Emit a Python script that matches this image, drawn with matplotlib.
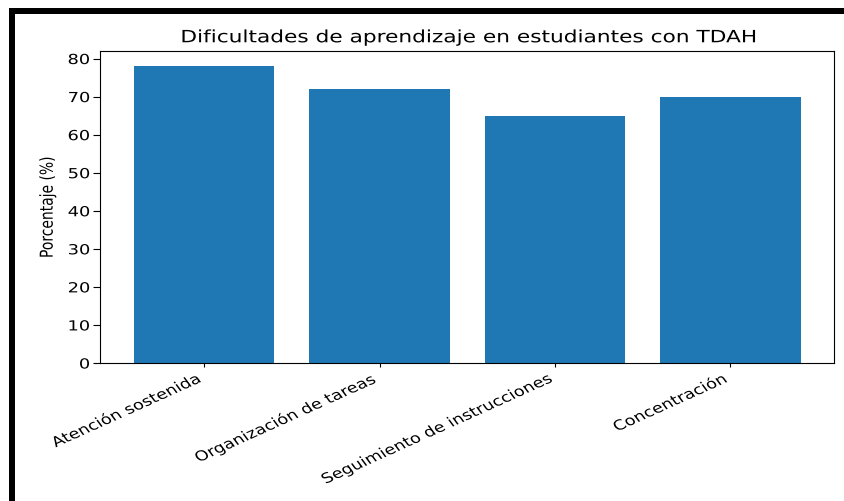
import matplotlib
matplotlib.use('Agg')
import matplotlib.pyplot as plt
from matplotlib import patheffects
from matplotlib.transforms import Affine2D
from matplotlib.patches import Rectangle

categorias = ['Atención sostenida', 'Organización de tareas',
              'Seguimiento de instrucciones', 'Concentración']
porcentajes = [78, 72, 65, 70]
yticks = [0, 10, 20, 30, 40, 50, 60, 70, 80]

W, H = 845, 502
SX = 1.28  # the screenshot is stretched sideways


class Estirar(patheffects.AbstractPathEffect):
    # stretch a text horizontally around its own anchor point
    def __init__(self, texto, sx=SX):
        super().__init__()
        self.texto = texto
        self.sx = sx

    def draw_path(self, renderer, gc, tpath, affine, rgbFace=None):
        px = self.texto.get_transform().transform(self.texto.get_unitless_position())[0]
        m = Affine2D().translate(-px, 0).scale(self.sx, 1).translate(px, 0)
        renderer.draw_path(gc, tpath, Affine2D(m.get_matrix() @ affine.get_matrix()), rgbFace)


def estirar(t):
    t.set_path_effects([Estirar(t)])


fig = plt.figure(figsize=(W / 100, H / 100), dpi=100)
ax = fig.add_axes([100.5 / W, 1 - 364 / H, (834 - 100.5) / W, (364 - 52.3) / H])

ax.bar(categorias, porcentajes, width=0.8, color='#1f77b4')
ax.set_ylim(0, 81.9)
ax.set_yticks(yticks)
ax.tick_params(axis='y', labelsize=10, length=5, pad=2.5)
ax.tick_params(axis='x', labelsize=10, length=3.2, pad=3.2)
plt.setp(ax.get_xticklabels(), rotation=30, ha='right')

t = ax.set_title('Dificultades de aprendizaje en estudiantes con TDAH', fontsize=12.2, pad=6.5)
estirar(t)
yl = ax.set_ylabel('Porcentaje (%)', fontsize=10)
ax.yaxis.set_label_coords((56.5 - 100.5) / (834 - 100.5), 0.5)
estirar(yl)
for lab in ax.get_xticklabels() + ax.get_yticklabels():
    estirar(lab)

# screenshot frame
fig.add_artist(Rectangle((9 / W, 0), 6 / W, (H - 9) / H, transform=fig.transFigure,
                         color='black', lw=0))
fig.add_artist(Rectangle((9 / W, 1 - 15 / H), (W - 9) / W, 6 / H, transform=fig.transFigure,
                         color='black', lw=0))

fig.savefig('out.png', dpi=100)
